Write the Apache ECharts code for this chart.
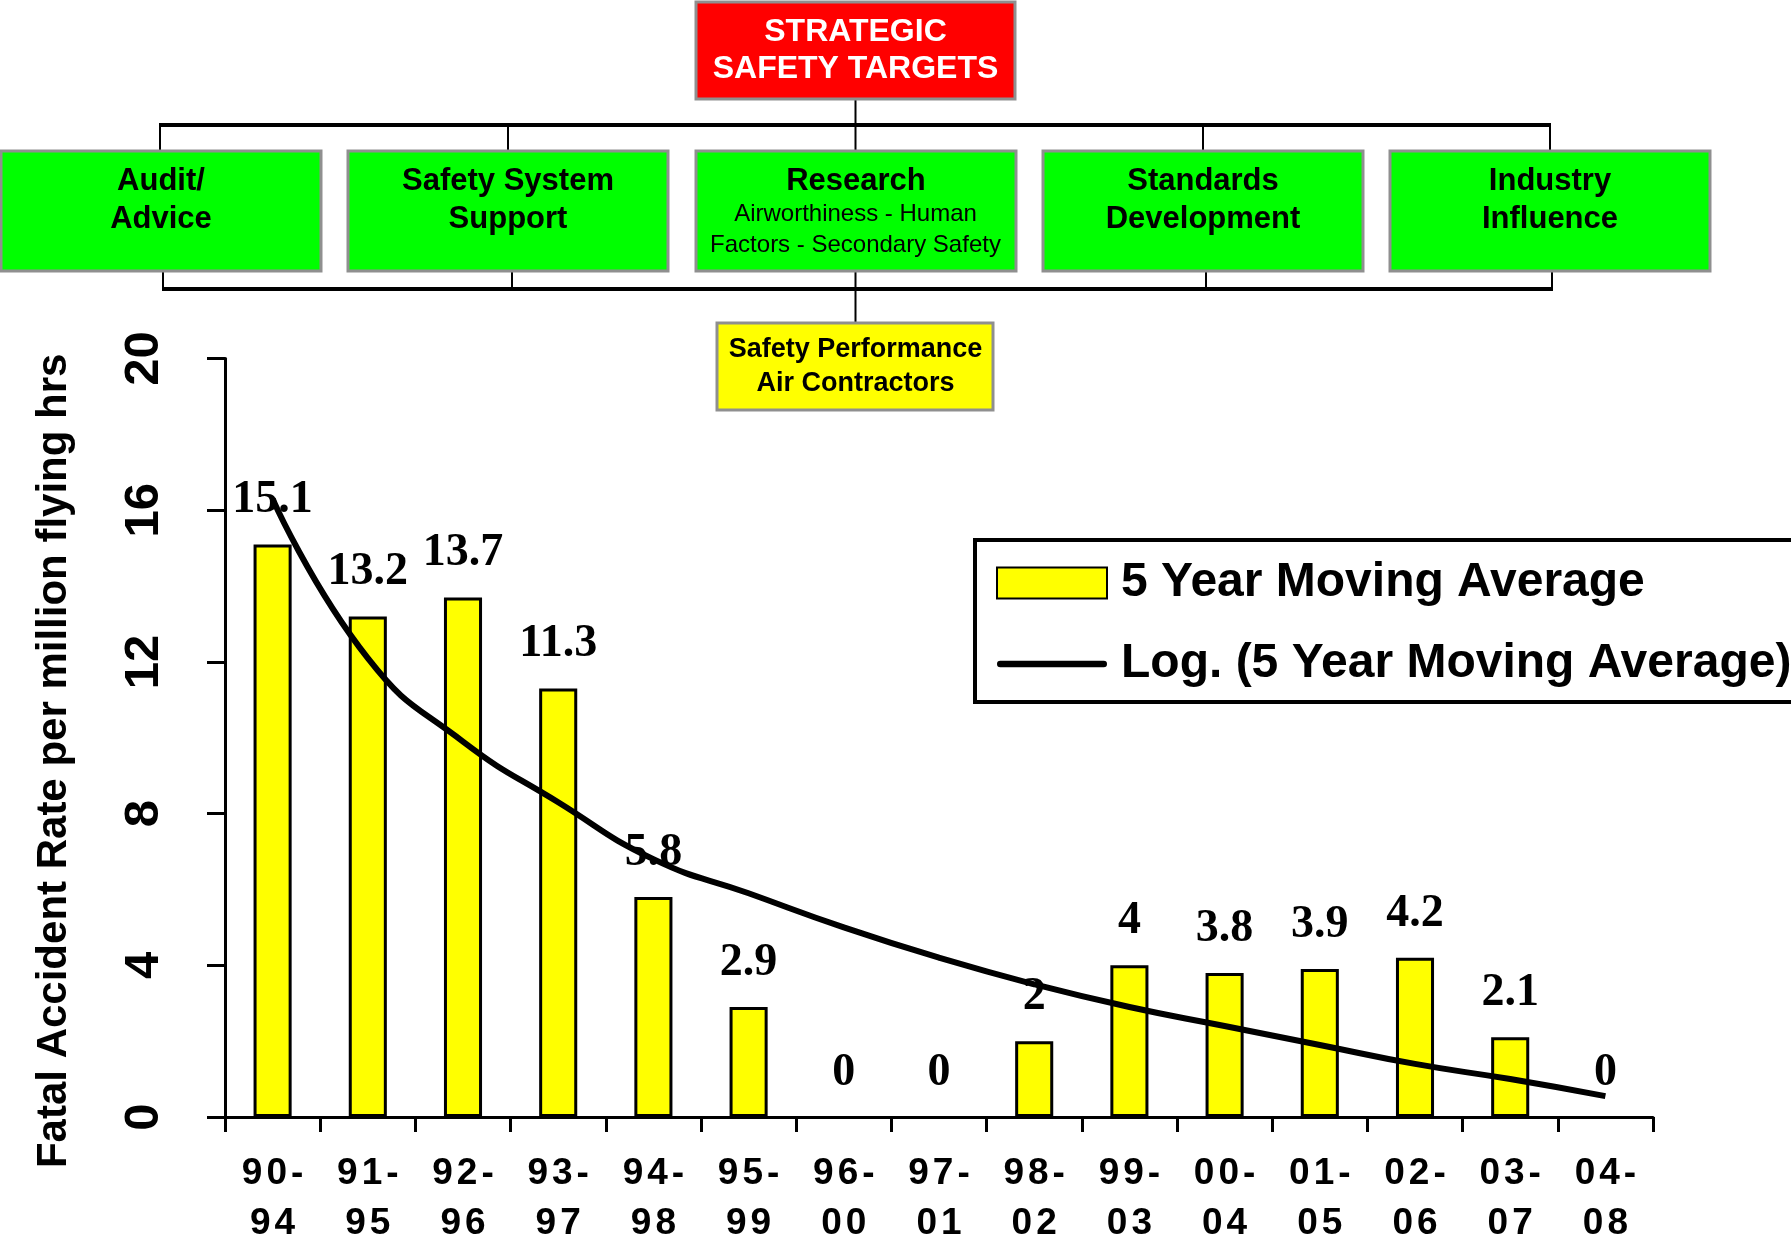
<!DOCTYPE html>
<html>
<head>
<meta charset="utf-8">
<script src="https://cdn.jsdelivr.net/npm/echarts/dist/echarts.min.js"></script>
<style>
html,body{margin:0;padding:0;background:#fff;}
#chart{width:1791px;height:1241px;}
</style>
</head>
<body>
<div id="chart"></div>
<script>
// ---- data ----
const categories = ['90-94','91-95','92-96','93-97','94-98','95-99','96-00','97-01','98-02','99-03','00-04','01-05','02-06','03-07','04-08'];
const movingAverage = [15.1, 13.2, 13.7, 11.3, 5.8, 2.9, 0, 0, 2, 4, 3.8, 3.9, 4.2, 2.1, 0];
const logTrend = [16.3, 12.1, 9.9, 8.3, 6.8, 5.9, 5.0, 4.2, 3.5, 2.9, 2.4, 1.9, 1.4, 1.0, 0.55];
const yTicks = [0, 4, 8, 12, 16, 20];
const seriesNames = ['5 Year Moving Average', 'Log. (5 Year Moving Average)'];
const yTitle = 'Fatal Accident Rate per million flying hrs';
const topBoxText = ['STRATEGIC', 'SAFETY TARGETS'];
const middleBoxText = [['Audit/', 'Advice'], ['Safety System', 'Support'], ['Research'], ['Standards', 'Development'], ['Industry', 'Influence']];
const researchSubText = ['Airworthiness - Human', 'Factors - Secondary Safety'];
const bottomBoxText = ['Safety Performance', 'Air Contractors'];

// ---- org chart graphics ----
const SANS = "'Liberation Sans', Arial, sans-serif";
const g = [];
// connectors
g.push({type:'line', shape:{x1:855.5,y1:99,x2:855.5,y2:151}, style:{stroke:'#000',lineWidth:2}});
g.push({type:'line', shape:{x1:159,y1:125,x2:1551,y2:125}, style:{stroke:'#000',lineWidth:4}});
[160, 508, 1203, 1550].forEach(x => g.push({type:'line', shape:{x1:x,y1:125,x2:x,y2:151}, style:{stroke:'#000',lineWidth:2}}));
g.push({type:'line', shape:{x1:162,y1:289,x2:1553,y2:289}, style:{stroke:'#000',lineWidth:4}});
[163, 512, 1206, 1552].forEach(x => g.push({type:'line', shape:{x1:x,y1:271,x2:x,y2:289}, style:{stroke:'#000',lineWidth:2}}));
g.push({type:'line', shape:{x1:855.5,y1:271,x2:855.5,y2:323}, style:{stroke:'#000',lineWidth:2}});

// red top box
g.push({type:'rect', shape:{x:696,y:2,width:319,height:97}, style:{fill:'#ff0000',stroke:'#8f8f8f',lineWidth:3}});
topBoxText.forEach((t,i) => g.push({type:'text', x:855.5, y:32 + i*37.5,
  style:{text:t, fill:'#fff', font:"bold 32px " + SANS, textAlign:'center', textVerticalAlign:'middle'}}));

// green boxes
const boxX = [1, 348, 696, 1043, 1390];
boxX.forEach((bx, i) => {
  g.push({type:'rect', shape:{x:bx,y:151,width:320,height:120}, style:{fill:'#00ff00',stroke:'#8f8f8f',lineWidth:3}});
  middleBoxText[i].forEach((t, j) => g.push({type:'text', x:bx+160, y:181.5 + j*37.5,
    style:{text:t, fill:'#000', font:"bold 31px " + SANS, textAlign:'center', textVerticalAlign:'middle'}}));
});
researchSubText.forEach((t, j) => g.push({type:'text', x:855.5, y:214 + j*31,
  style:{text:t, fill:'#000', font:"24px " + SANS, textAlign:'center', textVerticalAlign:'middle'}}));

// yellow box
g.push({type:'rect', shape:{x:717,y:323,width:276,height:87}, style:{fill:'#ffff00',stroke:'#8f8f8f',lineWidth:3}});
bottomBoxText.forEach((t, j) => g.push({type:'text', x:855.5, y:349.5 + j*34.5,
  style:{text:t, fill:'#000', font:"bold 27px " + SANS, textAlign:'center', textVerticalAlign:'middle'}}));

// legend frame
g.push({type:'rect', z:0, shape:{x:975,y:540,width:900,height:162}, style:{fill:'#fff',stroke:'#000',lineWidth:4}});

const barData = movingAverage.map(v => v === 0 ? {value:v, itemStyle:{borderWidth:0}} : v);

// spaced-out tick label: each character as its own rich fragment
const spaced = s => s.split('').map(ch => '{c|' + ch + '}').join('');

const chart = echarts.init(document.getElementById('chart'), null, {renderer:'canvas'});
chart.setOption({
  backgroundColor:'#fff',
  animation:false,
  graphic:{elements:g},
  grid:{left:225, right:138, top:358.6, bottom:124, containLabel:false, outerBoundsMode:'none'},
  legend:{
    orient:'vertical', left:991, top:553, z:10,
    itemWidth:110, itemHeight:31, itemGap:31,
    textStyle:{fontSize:48, fontWeight:'bold', fontFamily:SANS, color:'#000', lineHeight:50, padding:[0,0,0,9]},
    data:[{name:seriesNames[0], icon:'rect'}, {name:seriesNames[1], icon:'path://M3,0H97A3,3 0 0 1 97,6H3A3,3 0 0 1 3,0Z'}]
  },
  xAxis:{
    type:'category', data:categories, boundaryGap:true,
    axisLine:{show:true, lineStyle:{color:'#000', width:3}},
    axisTick:{show:true, interval:0, alignWithLabel:false, length:15, lineStyle:{color:'#000', width:3}},
    splitLine:{show:false},
    axisLabel:{interval:0, margin:32, color:'#000', fontFamily:SANS, fontWeight:'bold', fontSize:37, lineHeight:50,
      formatter:v => { const p = v.split('-'); return spaced(p[0] + '-') + '\n' + spaced(p[1]); },
      rich:{c:{color:'#000', fontFamily:SANS, fontWeight:'bold', fontSize:37, lineHeight:50, padding:[0,2,0,2]}}}
  },
  yAxis:{
    type:'value', min:yTicks[0], max:yTicks[yTicks.length-1], interval:yTicks[1]-yTicks[0],
    axisLine:{show:true, lineStyle:{color:'#000', width:3}},
    axisTick:{show:true, inside:false, length:18, lineStyle:{color:'#000', width:3}},
    splitLine:{show:false},
    axisLabel:{rotate:90, margin:56, color:'#000', fontFamily:SANS, fontWeight:'bold', fontSize:49},
    name:yTitle, nameLocation:'middle', nameGap:150, nameRotate:90,
    nameTextStyle:{color:'#000', fontFamily:SANS, fontWeight:'bold', fontSize:42, padding:[0,46,0,0]}
  },
  series:[
    {
      name:seriesNames[0], type:'bar', data:barData, barWidth:'40%', z:2,
      itemStyle:{color:'#ffff00', borderColor:'#000', borderWidth:3},
      label:{show:true, position:'top', distance:21, color:'#000', fontFamily:"'Liberation Serif', 'Times New Roman', serif", fontWeight:'bold', fontSize:46}
    },
    {
      name:seriesNames[1], type:'line', data:logTrend, smooth:true, symbol:'none', z:5, color:'#000',
      lineStyle:{color:'#000', width:6},
      itemStyle:{color:'#000'}
    }
  ]
});
</script>
</body>
</html>
